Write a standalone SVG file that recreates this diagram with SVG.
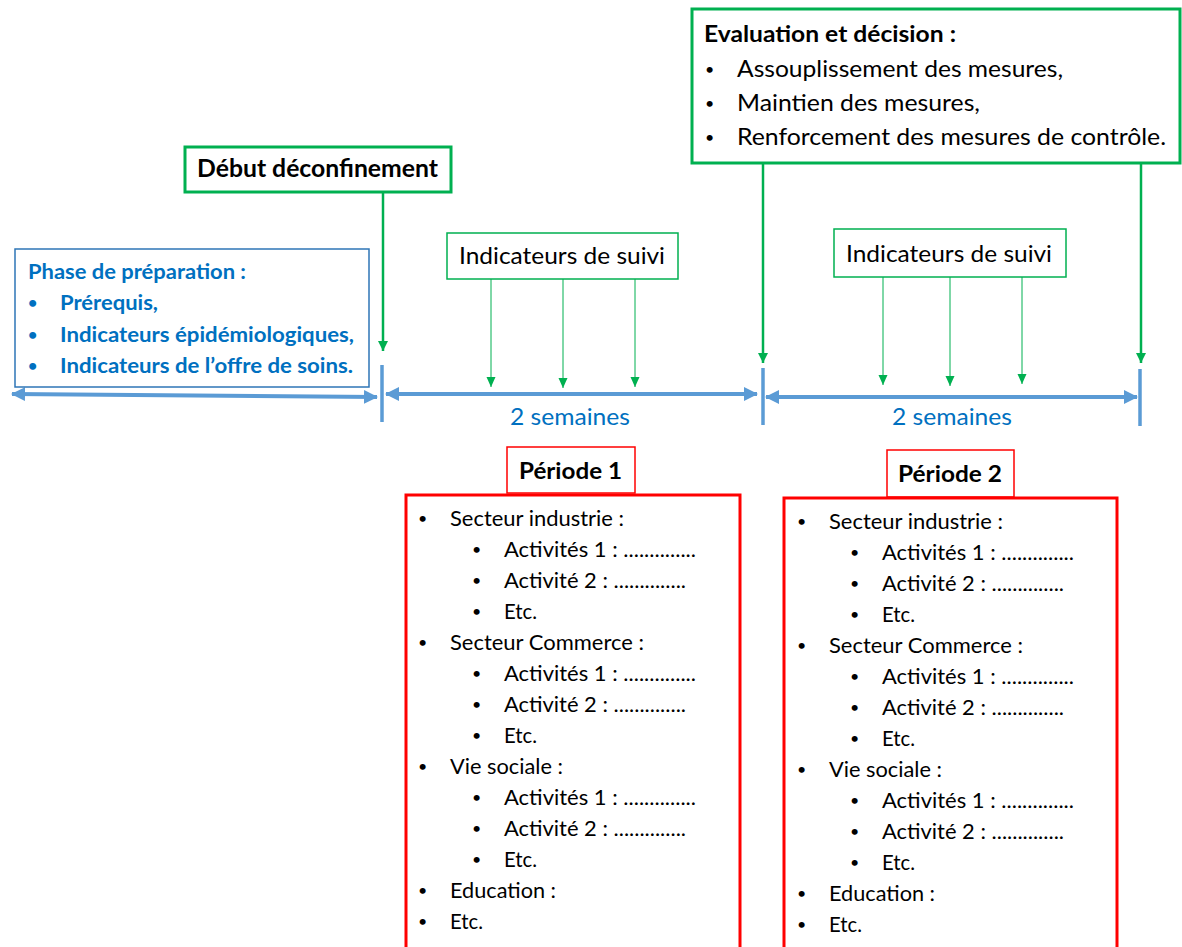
<svg xmlns="http://www.w3.org/2000/svg" width="1182" height="947" viewBox="0 0 1182 947">
<style>
text{font-family:Lato,"Open Sans","Liberation Sans",sans-serif;fill:#000}
.b{font-weight:bold}
.blue{fill:#0070C0}
.ph{font-size:21px}
.gbox{fill:#fff;stroke:#00B050;stroke-width:3}
.gthin{fill:#fff;stroke:#00B050;stroke-width:1.5}
.rthin{fill:#fff;stroke:#FF0000;stroke-width:1.5}
.rbox{fill:#fff;stroke:#FF0000;stroke-width:3}
.ind{font-size:23.5px}
.ev{font-size:23px}
.p{font-size:21px}
.bu{font-size:16px}
.sem{font-size:23px;fill:#0070C0}
.tl{stroke:#5B9BD5;stroke-width:4;fill:none}
.tick{stroke:#5B9BD5;stroke-width:3.5}
.garr{stroke:#00B050;stroke-width:2.5;fill:none}
.gthinl{stroke:#00B050;stroke-width:1;fill:none}
</style>
<defs>
<marker id="ba" markerUnits="userSpaceOnUse" markerWidth="14" markerHeight="16" refX="13" refY="8" orient="auto-start-reverse">
<path d="M0,1 L14,8 L0,15 z" fill="#5B9BD5"/>
</marker>
<marker id="ga" markerUnits="userSpaceOnUse" markerWidth="10" markerHeight="12" refX="10" refY="6" orient="auto">
<path d="M0,1 L10,6 L0,11 z" fill="#00B050"/>
</marker>
<marker id="gs" markerUnits="userSpaceOnUse" markerWidth="10" markerHeight="10" refX="10" refY="5" orient="auto">
<path d="M0,0.5 L10,5 L0,9.5 z" fill="#00B050"/>
</marker>
</defs>

<g id="connectors">
<line class="tl" x1="12" y1="394" x2="377" y2="397" marker-start="url(#ba)" marker-end="url(#ba)"/>
<line class="tl" x1="386" y1="394" x2="757" y2="394" marker-start="url(#ba)" marker-end="url(#ba)"/>
<line class="tl" x1="766" y1="397" x2="1137" y2="397" marker-start="url(#ba)" marker-end="url(#ba)"/>
<line class="tick" x1="382" y1="365" x2="382" y2="422"/>
<line class="tick" x1="763" y1="368" x2="763" y2="425"/>
<line class="tick" x1="1140" y1="369" x2="1140" y2="426"/>
<line class="garr" x1="383" y1="192" x2="383" y2="351" marker-end="url(#ga)"/>
<line class="garr" x1="763" y1="163" x2="763" y2="363" marker-end="url(#ga)"/>
<line class="garr" x1="1141" y1="163" x2="1141" y2="363" marker-end="url(#ga)"/>
<line class="gthinl" x1="491" y1="279" x2="491" y2="387" marker-end="url(#gs)"/>
<line class="gthinl" x1="563" y1="279" x2="563" y2="388" marker-end="url(#gs)"/>
<line class="gthinl" x1="635" y1="279" x2="635" y2="387" marker-end="url(#gs)"/>
<line class="gthinl" x1="883" y1="277" x2="883" y2="385" marker-end="url(#gs)"/>
<line class="gthinl" x1="950" y1="277" x2="950" y2="386" marker-end="url(#gs)"/>
<line class="gthinl" x1="1022" y1="277" x2="1022" y2="384" marker-end="url(#gs)"/>
</g>

<g id="phase">
<rect x="15" y="249" width="354" height="138" fill="#fff" stroke="#2E75B6" stroke-width="1.5"/>
<text class="b blue ph" x="28" y="279" textLength="218" lengthAdjust="spacingAndGlyphs">Phase de préparation :</text>
<text class="b blue bu" x="28" y="308">•</text>
<text class="b blue ph" x="60" y="310" textLength="98" lengthAdjust="spacingAndGlyphs">Prérequis,</text>
<text class="b blue bu" x="28" y="340">•</text>
<text class="b blue ph" x="60" y="342" textLength="294" lengthAdjust="spacingAndGlyphs">Indicateurs épidémiologiques,</text>
<text class="b blue bu" x="28" y="371">•</text>
<text class="b blue ph" x="60" y="373" textLength="293" lengthAdjust="spacingAndGlyphs">Indicateurs de l’offre de soins.</text>
</g>

<g id="debut">
<rect class="gbox" x="185" y="147" width="266" height="45"/>
<text class="b" x="197" y="177" font-size="24" textLength="241" lengthAdjust="spacingAndGlyphs">Début déconfinement</text>
</g>

<g id="evaluation">
<rect class="gbox" x="692" y="9" width="488" height="154"/>
<text class="b ev" x="704" y="42" textLength="252" lengthAdjust="spacingAndGlyphs">Evaluation et décision :</text>
<text class="bu" x="705" y="75">•</text>
<text class="ev" x="737" y="77" textLength="326" lengthAdjust="spacingAndGlyphs">Assouplissement des mesures,</text>
<text class="bu" x="705" y="109">•</text>
<text class="ev" x="737" y="111" textLength="243" lengthAdjust="spacingAndGlyphs">Maintien des mesures,</text>
<text class="bu" x="705" y="143">•</text>
<text class="ev" x="737" y="145" textLength="429" lengthAdjust="spacingAndGlyphs">Renforcement des mesures de contrôle.</text>
</g>

<g id="indicateurs1">
<rect class="gthin" x="447" y="233" width="231" height="46"/>
<text class="ind" x="459" y="264" textLength="206" lengthAdjust="spacingAndGlyphs">Indicateurs de suivi</text>
</g>
<g id="indicateurs2">
<rect class="gthin" x="834" y="229" width="232" height="48"/>
<text class="ind" x="846" y="262" textLength="206" lengthAdjust="spacingAndGlyphs">Indicateurs de suivi</text>
</g>

<g id="semaines1"><text class="sem" x="510" y="425" textLength="120" lengthAdjust="spacingAndGlyphs">2 semaines</text></g>
<g id="semaines2"><text class="sem" x="892" y="425" textLength="120" lengthAdjust="spacingAndGlyphs">2 semaines</text></g>

<g id="periode1-label">
<rect class="rthin" x="507" y="447" width="128" height="46"/>
<text class="b" x="519" y="479" font-size="22" textLength="103" lengthAdjust="spacingAndGlyphs">Période 1</text>
</g>
<g id="periode2-label">
<rect class="rthin" x="887" y="450" width="127" height="47"/>
<text class="b" x="898" y="482" font-size="22" textLength="104" lengthAdjust="spacingAndGlyphs">Période 2</text>
</g>

<g id="periode1">
<rect class="rbox" x="406" y="495" width="334" height="470"/>
<text class="bu" x="418" y="524">•</text><text class="p" x="450" y="526" textLength="174" lengthAdjust="spacingAndGlyphs">Secteur industrie :</text>
<text class="bu" x="472" y="555">•</text><text class="p" x="504" y="557" textLength="192" lengthAdjust="spacingAndGlyphs">Activités 1 : ..............</text>
<text class="bu" x="472" y="586">•</text><text class="p" x="504" y="588" textLength="182" lengthAdjust="spacingAndGlyphs">Activité 2 : ..............</text>
<text class="bu" x="472" y="617">•</text><text class="p" x="504" y="619" textLength="33" lengthAdjust="spacingAndGlyphs">Etc.</text>
<text class="bu" x="418" y="648">•</text><text class="p" x="450" y="650" textLength="194" lengthAdjust="spacingAndGlyphs">Secteur Commerce :</text>
<text class="bu" x="472" y="679">•</text><text class="p" x="504" y="681" textLength="192" lengthAdjust="spacingAndGlyphs">Activités 1 : ..............</text>
<text class="bu" x="472" y="710">•</text><text class="p" x="504" y="712" textLength="182" lengthAdjust="spacingAndGlyphs">Activité 2 : ..............</text>
<text class="bu" x="472" y="741">•</text><text class="p" x="504" y="743" textLength="33" lengthAdjust="spacingAndGlyphs">Etc.</text>
<text class="bu" x="418" y="772">•</text><text class="p" x="450" y="774" textLength="113" lengthAdjust="spacingAndGlyphs">Vie sociale :</text>
<text class="bu" x="472" y="803">•</text><text class="p" x="504" y="805" textLength="192" lengthAdjust="spacingAndGlyphs">Activités 1 : ..............</text>
<text class="bu" x="472" y="834">•</text><text class="p" x="504" y="836" textLength="182" lengthAdjust="spacingAndGlyphs">Activité 2 : ..............</text>
<text class="bu" x="472" y="865">•</text><text class="p" x="504" y="867" textLength="33" lengthAdjust="spacingAndGlyphs">Etc.</text>
<text class="bu" x="418" y="896">•</text><text class="p" x="450" y="898" textLength="106" lengthAdjust="spacingAndGlyphs">Education :</text>
<text class="bu" x="418" y="927">•</text><text class="p" x="450" y="929" textLength="33" lengthAdjust="spacingAndGlyphs">Etc.</text>
</g>

<g id="periode2">
<rect class="rbox" x="784" y="498" width="333" height="470"/>
<text class="bu" x="797" y="527">•</text><text class="p" x="829" y="529" textLength="174" lengthAdjust="spacingAndGlyphs">Secteur industrie :</text>
<text class="bu" x="850" y="558">•</text><text class="p" x="882" y="560" textLength="192" lengthAdjust="spacingAndGlyphs">Activités 1 : ..............</text>
<text class="bu" x="850" y="589">•</text><text class="p" x="882" y="591" textLength="182" lengthAdjust="spacingAndGlyphs">Activité 2 : ..............</text>
<text class="bu" x="850" y="620">•</text><text class="p" x="882" y="622" textLength="33" lengthAdjust="spacingAndGlyphs">Etc.</text>
<text class="bu" x="797" y="651">•</text><text class="p" x="829" y="653" textLength="194" lengthAdjust="spacingAndGlyphs">Secteur Commerce :</text>
<text class="bu" x="850" y="682">•</text><text class="p" x="882" y="684" textLength="192" lengthAdjust="spacingAndGlyphs">Activités 1 : ..............</text>
<text class="bu" x="850" y="713">•</text><text class="p" x="882" y="715" textLength="182" lengthAdjust="spacingAndGlyphs">Activité 2 : ..............</text>
<text class="bu" x="850" y="744">•</text><text class="p" x="882" y="746" textLength="33" lengthAdjust="spacingAndGlyphs">Etc.</text>
<text class="bu" x="797" y="775">•</text><text class="p" x="829" y="777" textLength="113" lengthAdjust="spacingAndGlyphs">Vie sociale :</text>
<text class="bu" x="850" y="806">•</text><text class="p" x="882" y="808" textLength="192" lengthAdjust="spacingAndGlyphs">Activités 1 : ..............</text>
<text class="bu" x="850" y="837">•</text><text class="p" x="882" y="839" textLength="182" lengthAdjust="spacingAndGlyphs">Activité 2 : ..............</text>
<text class="bu" x="850" y="868">•</text><text class="p" x="882" y="870" textLength="33" lengthAdjust="spacingAndGlyphs">Etc.</text>
<text class="bu" x="797" y="899">•</text><text class="p" x="829" y="901" textLength="106" lengthAdjust="spacingAndGlyphs">Education :</text>
<text class="bu" x="797" y="930">•</text><text class="p" x="829" y="932" textLength="33" lengthAdjust="spacingAndGlyphs">Etc.</text>
</g>
</svg>
